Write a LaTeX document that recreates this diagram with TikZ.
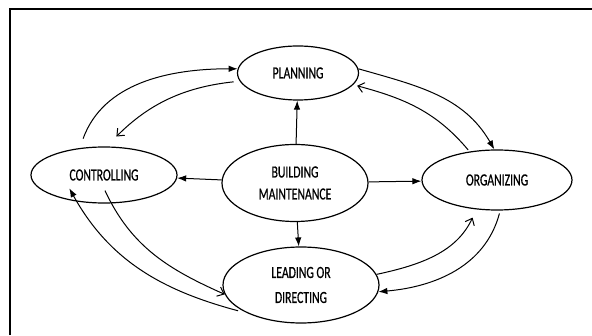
\documentclass[tikz,border=0pt]{standalone}
\usepackage{fontspec}
\setmainfont[FakeStretch=0.69, FakeBold=0.6]{Carlito}
\usetikzlibrary{shapes.geometric, arrows.meta}

\tikzset{
	stage/.style={draw, ellipse, line width=1.2pt, inner sep=0pt, align=center, font=\fontsize{17}{22}\selectfont},
	fwd/.style={line width=1pt, -{Latex[length=9pt,width=6.5pt]}},
	back/.style={line width=1pt, -{Straight Barb[length=6pt,width=10pt]}},
}

\begin{document}
\begin{tikzpicture}[x=1pt, y=1pt]
	\useasboundingbox (0,0) rectangle (592,335);
	\draw[line width=1.3pt] (10,0) -- (10,326) -- (592,326);

	% the five stages
	\node[stage, minimum width=121pt, minimum height=54pt] (plan) at (298,262) {PLANNING};
	\node[stage, minimum width=146pt, minimum height=56pt] (ctrl) at (104,160) {CONTROLLING};
	\node[stage, minimum width=146pt, minimum height=77pt] (bm) at (295,152) {BUILDING\\MAINTENANCE};
	\node[stage, minimum width=150pt, minimum height=60pt] (org) at (497,155) {ORGANIZING};
	\node[stage, minimum width=156pt, minimum height=76pt] (lead) at (301,50) {LEADING OR\\[3pt]DIRECTING};

	% spokes from the centre
	\draw[fwd] (bm) -- (plan);
	\draw[fwd] (bm) -- (ctrl);
	\draw[fwd] (bm) -- (org);
	\draw[fwd] (bm) -- (lead);

	% the cycle round the outside
	\draw[fwd, shorten <=10pt] (ctrl.132) to[out=70, in=180] (plan.176);
	\draw[back, shorten <=6pt, shorten >=14pt] (plan.188) to[out=186, in=45] (ctrl.85);
	\draw[fwd] (plan.4) to[out=-16, in=120] (org.95);
	\draw[back, shorten <=2pt, shorten >=4pt] (org.134) to[out=130, in=-15] (plan.-12);
	\draw[fwd, shorten <=3pt] (org.-84) to[out=-105, in=5] (lead.-5);
	\draw[back, shorten >=9pt] (lead.8) to[out=12, in=-115] (org.-125);
	\draw[back] ([yshift=13pt]ctrl.-88) to[out=-65, in=156] (lead.187);
	\draw[fwd, shorten <=10pt] (lead.208) to[out=165, in=-61] ([yshift=12pt]ctrl.216);
\end{tikzpicture}
\end{document}
